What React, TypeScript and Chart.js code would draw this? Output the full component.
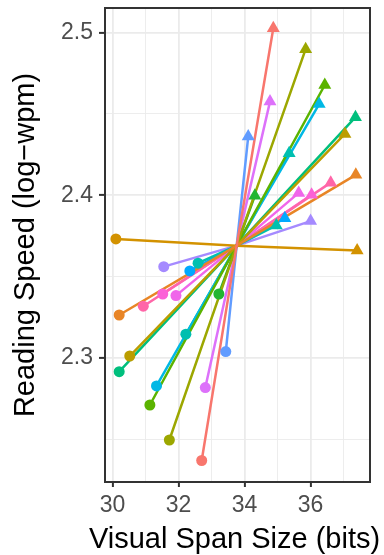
import React, { useEffect, useRef } from "react";
import { Chart, registerables } from "chart.js";

Chart.register(...registerables);

// Low end (circle) and high end (triangle) of each subject's line
const lowX = [32.70, 30.20, 30.10, 30.52, 31.72, 31.13, 33.22, 30.20, 32.59, 31.33, 32.34, 32.22, 33.43, 31.55, 32.81, 31.92, 30.93, 31.52];
const lowY = [2.237, 2.3264, 2.3731, 2.3012, 2.2496, 2.2711, 2.3393, 2.2916, 2.3582, 2.2828, 2.3535, 2.3146, 2.3039, 2.3561, 2.2818, 2.3383, 2.3318, 2.3393];
const highX = [34.87, 37.37, 37.41, 37.04, 35.85, 36.43, 34.31, 37.36, 34.96, 36.26, 35.22, 35.35, 34.11, 36.00, 34.77, 35.64, 36.61, 36.03];
const highY = [2.5026, 2.4125, 2.366, 2.4376, 2.4897, 2.4677, 2.3996, 2.4479, 2.3814, 2.456, 2.3859, 2.4257, 2.436, 2.3841, 2.4575, 2.4014, 2.4077, 2.4003];
const centerX = 33.76;
const centerY = 2.369;

const colors = ["#F8766D", "#E88526", "#D39200", "#BB9D00", "#9CA700", "#5BB300", "#22B531", "#00BF7D", "#00C0AF", "#00B8E5", "#00A9FF", "#00BFB0", "#619CFF", "#A58AFF", "#DD71FA", "#F066EA", "#FF66A8", "#FB61D7"];

const xTicks = [30, 31, 32, 33, 34, 35, 36, 37];
const yTicks = [2.25, 2.3, 2.35, 2.4, 2.45, 2.5];
const xTitle = "Visual Span Size (bits)";
const yTitle = "Reading Speed (log\u2212wpm)";

const isMajorX = (v: number) => Math.round(v) % 2 === 0;
const isMajorY = (v: number) => Math.abs(v * 10 - Math.round(v * 10)) < 1e-6;

export default function App() {
  const ref = useRef<HTMLCanvasElement>(null);
  useEffect(() => {
    document.body.style.margin = "0";
    const lineSets: any[] = lowX.map((_, i) => ({
      type: "line",
      data: [
        { x: lowX[i], y: lowY[i] },
        { x: centerX, y: centerY },
        { x: highX[i], y: highY[i] },
      ],
      borderColor: colors[i],
      borderWidth: 2.5,
      pointRadius: 0,
      tension: 0,
      order: 2,
    }));
    const pointSets: any[] = lowX.map((_, i) => ({
      type: "scatter",
      data: [
        { x: lowX[i], y: lowY[i] },
        { x: highX[i], y: highY[i] },
      ],
      showLine: false,
      pointStyle: ["circle", "triangle"],
      pointRadius: [5.5, 7.5],
      backgroundColor: colors[i],
      borderColor: colors[i],
      borderWidth: 0,
      order: 1,
    }));
    const fam = "'Liberation Sans', Arial, sans-serif";
    const decorPlugin = {
      id: "panelDecor",
      afterDatasetsDraw(chart: any) {
        const { ctx, chartArea: a } = chart;
        ctx.save();
        ctx.strokeStyle = "#333333";
        ctx.lineWidth = 2;
        ctx.strokeRect(a.left, a.top, a.right - a.left, a.bottom - a.top);
        ctx.restore();
      },
      afterDraw(chart: any) {
        const { ctx, chartArea: a } = chart;
        ctx.save();
        ctx.fillStyle = "#000000";
        ctx.font = `29px ${fam}`;
        ctx.textAlign = "center";
        ctx.textBaseline = "alphabetic";
        ctx.fillText(xTitle, (a.left + a.right) / 2 - 3, 548);
        ctx.restore();
      },
    };
    const tickFont = { family: fam, size: 23 };
    const titleFont = { family: fam, size: 29, lineHeight: 1.2 };
    const chart = new Chart(ref.current!, {
      type: "line",
      data: { datasets: [...pointSets, ...lineSets] },
      plugins: [decorPlugin],
      options: {
        animation: false,
        responsive: false,
        layout: { padding: { top: 8, right: 14, left: 0, bottom: 0 } },
        plugins: { legend: { display: false }, tooltip: { enabled: false } },
        scales: {
          x: {
            type: "linear",
            min: 29.77,
            max: 37.8,
            afterBuildTicks: (s: any) => {
              s.ticks = xTicks.map((value) => ({ value }));
            },
            afterFit: (s: any) => {
              s.height = 73;
              s.paddingLeft = 0;
              s.paddingRight = 0;
            },
            border: { display: false },
            grid: {
              color: "#EBEBEB",
              lineWidth: (c: any) => (isMajorX(c.tick.value) ? 1.8 : 0.9),
              tickColor: (c: any) => (isMajorX(c.tick.value) ? "#333333" : "rgba(0,0,0,0)"),
              tickWidth: 2,
              tickLength: 5,
            },
            ticks: {
              autoSkip: false,
              maxRotation: 0,
              padding: 5,
              color: "#4D4D4D",
              font: tickFont,
              callback: (v: any) => (isMajorX(Number(v)) ? String(v) : ""),
            },
            title: { display: false },
          },
          y: {
            type: "linear",
            min: 2.2238,
            max: 2.515,
            afterBuildTicks: (s: any) => {
              s.ticks = yTicks.map((value) => ({ value }));
            },
            afterFit: (s: any) => {
              s.width = 105;
              s.paddingTop = 0;
              s.paddingBottom = 0;
            },
            border: { display: false },
            grid: {
              color: "#EBEBEB",
              lineWidth: (c: any) => (isMajorY(c.tick.value) ? 1.8 : 0.9),
              tickColor: (c: any) => (isMajorY(c.tick.value) ? "#333333" : "rgba(0,0,0,0)"),
              tickWidth: 2,
              tickLength: 6,
            },
            ticks: {
              autoSkip: false,
              padding: 6,
              color: "#4D4D4D",
              font: tickFont,
              callback: (v: any) => (isMajorY(Number(v)) ? Number(v).toFixed(1) : ""),
            },
            title: {
              display: true,
              text: yTitle,
              color: "#000000",
              font: titleFont,
              padding: { top: 9, bottom: 0 },
            },
          },
        },
      } as any,
    });
    return () => chart.destroy();
  }, []);
  return <canvas ref={ref} width={384} height={555} style={{ display: "block" }} />;
}
